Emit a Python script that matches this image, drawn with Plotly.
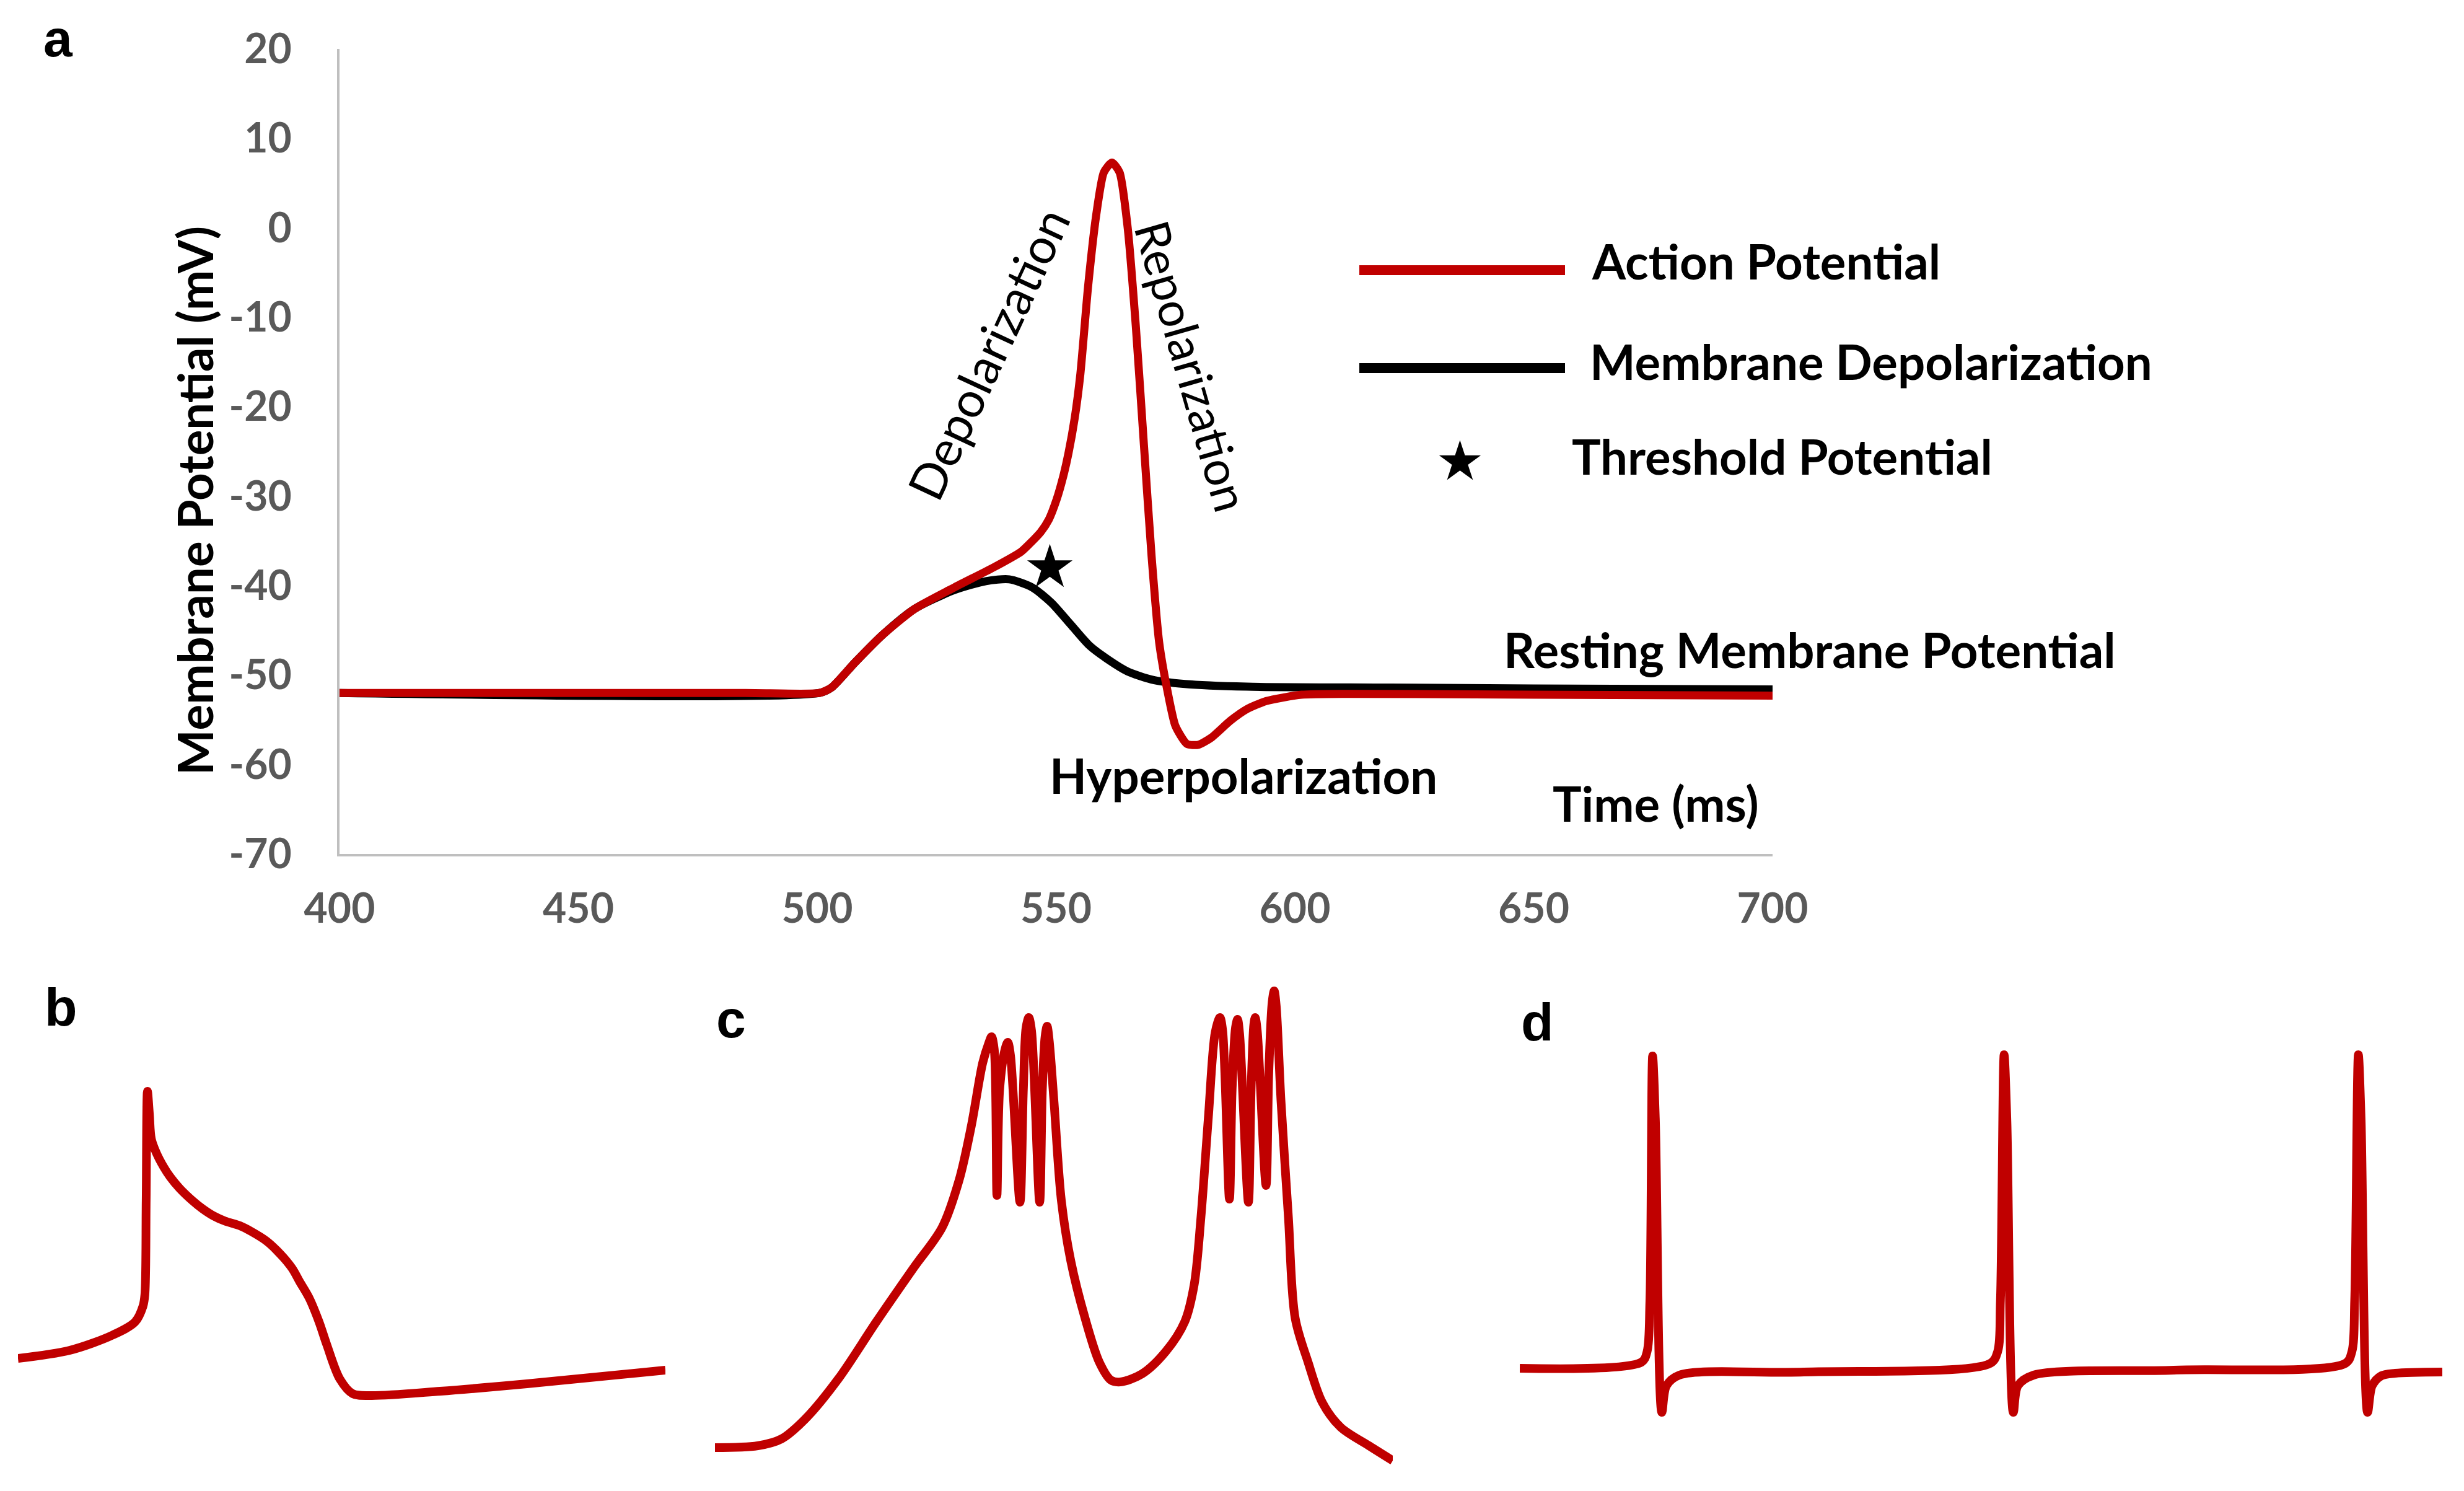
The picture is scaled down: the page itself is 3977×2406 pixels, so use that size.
import plotly.graph_objects as go

W, H = 3977, 2406

def px(x, y):
    # figure pixel -> paper coordinates
    return x / W, 1 - y / H

RED = "#C00000"
BLACK = "#000000"
GREY = "#595959"
FONT = "Lato"

# ---- panel a : action potential vs membrane depolarization ----
ap_t = [400, 485, 500.5, 503.0, 507.9, 513.7, 520.4, 528.7, 536.8, 542.7, 544.5, 546.8,
        548.5, 550.1, 551.5, 552.6, 553.9, 555.1, 556.7, 558.4, 560.0, 561.7, 563.3, 565.0,
        566.7, 568.4, 570.0, 571.6, 573.3, 575.0, 577.4, 579.8, 582.5, 586.5, 590.0,
        594.0, 601.4, 611.4, 650, 700]
ap_v = [-52.0, -52.0, -52.0, -51.4, -48.6, -45.5, -42.6, -40.2, -38.0, -36.2, -35.3, -34.0,
        -32.6, -30.4, -27.8, -25.2, -21.3, -16.3, -6.6, 1.4, 6.2, 7.3, 6.2, 0.0,
        -11.0, -24.3, -36.7, -46.4, -51.7, -55.7, -57.7, -57.8, -57.0, -55.1, -53.8,
        -52.9, -52.2, -52.1, -52.2, -52.3]

md_t = [400, 500.5, 503.0, 507.9, 513.7, 520.4, 528.7, 535.3, 540.2, 545.0, 549.0,
        553.0, 557.0, 561.0, 565.0, 570.0, 577.0, 590, 620, 650, 700]
md_v = [-52.0, -52.0, -51.4, -48.6, -45.5, -42.6, -40.5, -39.5, -39.3, -40.2, -41.9,
        -44.3, -46.7, -48.3, -49.6, -50.5, -51.0, -51.3, -51.4, -51.5, -51.6]

threshold_t = [548.7]
threshold_v = [-38.0]

x_ticks = [400, 450, 500, 550, 600, 650, 700]
y_ticks = [20, 10, 0, -10, -20, -30, -40, -50, -60, -70]
y_tick_text = ["20", "10", "0", "-10", "-20", "-30", "-40", "-50", "-60", "-70"]

# ---- panel b : plateau action potential (arbitrary units) ----
b_t = [0, 8.0, 14.7, 18.1, 19.3, 19.6, 19.8, 20.0, 20.3, 20.6, 21.4, 22.5, 23.5, 25.0, 26.9,
       28.5, 30.2, 32.0, 34.3, 36.0, 38.3, 40.0, 42.3, 43.5, 45.0, 46.5, 47.7, 49.7, 51.7,
       54.4, 65.2, 78.6, 100]
b_v = [-56.8, -54.2, -49.2, -45.0, -40.0, -36.2, -5.8, 29.4, 22.0, 14.0, 9.4, 5.0, 1.8, -2.0, -5.8,
       -8.5, -10.8, -12.5, -14.0, -15.8, -18.8, -22.0, -27.6, -32.0, -37.4, -45.0, -52.4, -63.4, -68.2,
       -68.8, -67.4, -65.0, -60.6]

# ---- panel c : burst firing ----
c_t = [0, 6.3, 9.8, 13.3, 18.2, 23.8, 29.3, 33.5, 36.0, 37.8, 39.5, 40.4, 40.8, 41.2,
       41.6, 42.0, 42.8, 43.2, 43.6, 45.0, 45.5, 45.9, 46.3, 46.7, 47.9, 48.3, 48.7, 49.0,
       49.3, 50.0, 51.1, 52.5, 54.6, 56.7, 58.4, 59.8, 63.0, 66.5, 69.3, 70.7, 71.7, 72.8,
       73.8, 74.5, 74.9, 75.9, 76.3, 76.8, 77.1, 77.4, 78.7, 79.1, 79.5, 79.7, 80.0, 81.3,
       81.7, 82.2, 82.5, 82.8, 83.5, 84.6, 85.6, 87.5, 89.6, 92.3, 96.5, 100]
c_v = [-85.6, -85.0, -82.8, -76.4, -63.4, -45.0, -27.6, -14.6, 0.6, 18.0, 38.6, 45.0, 47.0, 43.0,
       -4.2, 30.0, 43.0, 45.2, 41.0, -6.4, 30.0, 50.0, 53.2, 49.0, -6.4, 30.0, 47.0, 50.4,
       46.0, 26.6, -5.8, -25.4, -43.8, -58.0, -63.8, -64.4, -61.8, -54.6, -45.0, -33.0, -11.2, 21.2,
       48.4, 53.2, 49.0, -5.4, 30.0, 50.0, 52.6, 48.0, -6.4, 30.0, 51.0, 53.2, 49.0, -1.0,
       35.0, 58.0, 61.8, 57.0, 26.6, -11.2, -43.8, -58.0, -71.0, -79.0, -85.0, -89.8]

# ---- panel d : regular spiking ----
d_t = [0, 13.2, 13.8, 14.1, 14.4, 14.7, 15.4, 15.9, 17.3, 30.8, 51.0, 51.8, 52.1,
       52.5, 52.8, 53.5, 54.0, 55.7, 70.9, 89.5, 90.2, 90.5, 90.9, 91.2, 91.9, 92.4,
       93.4, 94.9, 100]
d_v = [-60.0, -58.0, -54.6, -38.4, 40.8, 20.0, -74.2, -65.6, -62.2, -61.2, -58.4, -54.6, -38.0,
       41.2, 20.0, -74.2, -65.6, -62.2, -60.6, -58.4, -54.6, -38.0, 41.2, 20.0, -74.2, -65.6,
       -62.4, -61.6, -61.2]

fig = go.Figure()

fig.add_trace(go.Scatter(x=md_t, y=md_v, mode="lines", name="Membrane Depolarization",
                         line=dict(color=BLACK, width=13, shape="spline", smoothing=0.7),
                         xaxis="x", yaxis="y"))
fig.add_trace(go.Scatter(x=ap_t, y=ap_v, mode="lines", name="Action Potential",
                         line=dict(color=RED, width=13, shape="spline", smoothing=0.6),
                         xaxis="x", yaxis="y"))
fig.add_trace(go.Scatter(x=threshold_t, y=threshold_v, mode="markers", name="Threshold Potential",
                         marker=dict(symbol="star", size=55, color=BLACK, line=dict(width=0)),
                         xaxis="x", yaxis="y"))

for t, v, i in [(b_t, b_v, 2), (c_t, c_v, 3), (d_t, d_v, 4)]:
    fig.add_trace(go.Scatter(x=t, y=v, mode="lines",
                             line=dict(color=RED, width=14, shape="spline", smoothing=0.9),
                             xaxis="x%d" % i, yaxis="y%d" % i))

main_x0, main_x1 = 540, 2853
main_top, main_bot = 71, 1370
bot_top, bot_bot = 1560, 2400

hidden = dict(visible=False, showgrid=False, zeroline=False, fixedrange=True, automargin=False)
tick_font = dict(family=FONT, size=66, color=GREY, weight="bold")

fig.update_layout(
    width=W, height=H,
    margin=dict(l=0, r=0, t=0, b=0, autoexpand=False),
    paper_bgcolor="white", plot_bgcolor="white",
    showlegend=False,
    xaxis=dict(domain=[main_x0 / W, main_x1 / W], range=[400, 700],
               tickvals=x_ticks, ticks="", showgrid=False, zeroline=False,
               showline=True, linecolor="#BFBFBF", linewidth=4,
               tickfont=tick_font, ticklabelstandoff=28, anchor="y", automargin=False),
    yaxis=dict(domain=[1 - main_bot / H, 1 - main_top / H], range=[-70, 20],
               tickvals=y_ticks, ticktext=y_tick_text, ticks="", showgrid=False, zeroline=False,
               showline=True, linecolor="#BFBFBF", linewidth=4,
               tickfont=tick_font, ticklabelstandoff=60, anchor="x", automargin=False),
    xaxis2=dict(domain=[21 / W, 1066 / W], range=[0, 100], anchor="y2", **hidden),
    yaxis2=dict(domain=[1 - bot_bot / H, 1 - bot_top / H], range=[-100, 68], anchor="x2", **hidden),
    xaxis3=dict(domain=[1146 / W, 2240 / W], range=[0, 100], anchor="y3", **hidden),
    yaxis3=dict(domain=[1 - bot_bot / H, 1 - bot_top / H], range=[-100, 68], anchor="x3", **hidden),
    xaxis4=dict(domain=[2445 / W, 3934 / W], range=[0, 100], anchor="y4", **hidden),
    yaxis4=dict(domain=[1 - bot_bot / H, 1 - bot_top / H], range=[-100, 68], anchor="x4", **hidden),
)

def note(text, x, y, size=78, bold=True, xanchor="left", angle=0, family=FONT, color=BLACK):
    ax, ay = px(x, y)
    fig.add_annotation(text=text, x=ax, y=ay, xref="paper", yref="paper",
                       xanchor=xanchor, yanchor="middle", showarrow=False,
                       textangle=angle,
                       font=dict(family=family, size=size, color=color,
                                 weight="bold" if bold else "normal"))

# panel letters
note("a", 86, 54, size=84, xanchor="center", family="Liberation Sans")
note("b", 90, 1617, size=86, xanchor="center", family="Liberation Sans")
note("c", 1172, 1636, size=86, xanchor="center", family="Liberation Sans")
note("d", 2473, 1641, size=86, xanchor="center", family="Liberation Sans")

# axis titles
note("Membrane Potential (mV)", 306, 800, xanchor="center", angle=-90)
note("Time (ms)", 2496, 1288)

# curve labels
note("Depolarization", 1586, 562, size=79, bold=False, xanchor="center", angle=-65)
note("Repolarization", 1917, 582, size=77, bold=False, xanchor="center", angle=74)
note("Resting Membrane Potential", 2417, 1040)
note("Hyperpolarization", 1684, 1243)

# legend
for y, col in [(428, RED), (586, BLACK)]:
    x0, y0 = px(2186, y)
    x1, _ = px(2518, y)
    fig.add_shape(type="line", xref="paper", yref="paper", x0=x0, x1=x1, y0=y0, y1=y0,
                  line=dict(color=col, width=16))
note("Action Potential", 2559, 413)
note("Membrane Depolarization", 2556, 575)
note("\u2605", 2348, 736, size=88, bold=False, xanchor="center", family="DejaVu Sans")
note("Threshold Potential", 2527, 728)

fig.write_html("out.html")
